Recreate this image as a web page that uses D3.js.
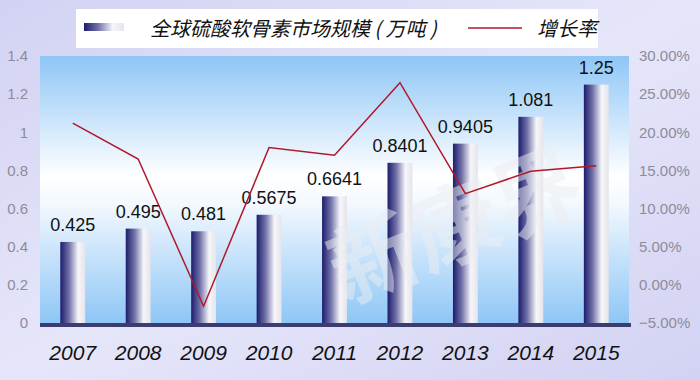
<!DOCTYPE html>
<html>
<head>
<meta charset="utf-8">
<script src="https://cdn.jsdelivr.net/npm/d3@7"></script>
<style>
  body { margin: 0; background: #fff; }
  svg { display: block; }
</style>
</head>
<body>
<div id="root"></div>
<script>
// data
var years = ["2007","2008","2009","2010","2011","2012","2013","2014","2015"];
var market = [0.425, 0.495, 0.481, 0.5675, 0.6641, 0.8401, 0.9405, 1.081, 1.25];
var marketLabels = ["0.425","0.495","0.481","0.5675","0.6641","0.8401","0.9405","1.081","1.25"];
var growth = [0.212, 0.165, -0.028, 0.180, 0.170, 0.265, 0.1195, 0.149, 0.156];
var leftTicks = [0, 0.2, 0.4, 0.6, 0.8, 1, 1.2, 1.4];
var rightTicks = [-0.05, 0, 0.05, 0.10, 0.15, 0.20, 0.25, 0.30];

var width = 700, height = 380;
var plot = {left: 40, right: 629, top: 56, bottom: 323};

var svg = d3.select("#root").append("svg")
  .attr("width", width)
  .attr("height", height);

var defs = svg.append("defs");

var bg = defs.append("linearGradient").attr("id", "bg")
  .attr("x1", 0).attr("y1", 0).attr("x2", 1).attr("y2", 1);
bg.append("stop").attr("offset", "0%").attr("stop-color", "#d2d2f3");
bg.append("stop").attr("offset", "50%").attr("stop-color", "#e6e6fa");
bg.append("stop").attr("offset", "100%").attr("stop-color", "#d2d2f3");

var pg = defs.append("linearGradient").attr("id", "plotbg")
  .attr("x1", 0).attr("y1", 0).attr("x2", 0).attr("y2", 1);
pg.append("stop").attr("offset", "0%").attr("stop-color", "#8ec6f6");
pg.append("stop").attr("offset", "45%").attr("stop-color", "#ffffff");
pg.append("stop").attr("offset", "55%").attr("stop-color", "#f4f9fe");
pg.append("stop").attr("offset", "100%").attr("stop-color", "#8ec6f6");

var barg = defs.append("linearGradient").attr("id", "barg")
  .attr("x1", 0).attr("y1", 0).attr("x2", 1).attr("y2", 0);
barg.append("stop").attr("offset", "0%").attr("stop-color", "#1c1c6c");
barg.append("stop").attr("offset", "35%").attr("stop-color", "#7070a8");
barg.append("stop").attr("offset", "72%").attr("stop-color", "#f6f6fa");
barg.append("stop").attr("offset", "100%").attr("stop-color", "#e4e4ea");

svg.append("rect")
  .attr("width", width).attr("height", height)
  .attr("fill", "url(#bg)");

svg.append("rect")
  .attr("x", plot.left).attr("y", plot.top)
  .attr("width", plot.right - plot.left).attr("height", plot.bottom - plot.top)
  .attr("fill", "url(#plotbg)");

// scales
var x = d3.scaleBand().domain(years).range([plot.left, plot.right]).paddingInner(0.62).paddingOuter(0.31);
var yL = d3.scaleLinear().domain([0, 1.4]).range([plot.bottom, plot.top]);
var yR = d3.scaleLinear().domain([-0.05, 0.30]).range([plot.bottom, plot.top]);

// bars
svg.selectAll(".bar").data(market).enter().append("rect")
  .attr("class", "bar")
  .attr("x", function(d, i) { return x(years[i]); })
  .attr("y", function(d) { return yL(d); })
  .attr("width", x.bandwidth())
  .attr("height", function(d) { return yL(0) - yL(d); })
  .attr("fill", "url(#barg)");

// watermark, faint over the bars
svg.append("text")
  .attr("x", 345).attr("y", 305)
  .attr("transform", "rotate(-22,345,305)")
  .attr("font-family", "Noto Sans CJK SC")
  .attr("font-weight", "bold")
  .attr("font-size", 88)
  .attr("fill", "#eceef2")
  .attr("opacity", 0.5)
  .text("新康界");

// bar labels
svg.selectAll(".blabel").data(market).enter().append("text")
  .attr("x", function(d, i) { return x(years[i]) + x.bandwidth() / 2; })
  .attr("y", function(d) { return yL(d) - 11; })
  .attr("text-anchor", "middle")
  .attr("font-family", "Liberation Sans, Arial, sans-serif")
  .attr("font-size", 18)
  .attr("fill", "#111")
  .text(function(d, i) { return marketLabels[i]; });

// growth line
var line = d3.line()
  .x(function(d, i) { return x(years[i]) + x.bandwidth() / 2; })
  .y(function(d) { return yR(d); });

svg.append("path")
  .datum(growth)
  .attr("d", line)
  .attr("fill", "none")
  .attr("stroke", "#b0182a")
  .attr("stroke-width", 1.5);

// baseline
svg.append("line")
  .attr("x1", plot.left).attr("x2", plot.right + 2)
  .attr("y1", plot.bottom + 2).attr("y2", plot.bottom + 2)
  .attr("stroke", "#3c3c70")
  .attr("stroke-width", 4);

// left axis
var leftAxis = d3.axisLeft(yL).tickValues(leftTicks).tickSize(0).tickPadding(10)
  .tickFormat(function(d) { return d3.format("~g")(d); });
var gL = svg.append("g").attr("transform", "translate(" + (plot.left - 2) + ",0)").call(leftAxis);
gL.select(".domain").remove();
gL.selectAll("text")
  .attr("font-family", "Liberation Sans, Arial, sans-serif")
  .attr("font-size", 15)
  .attr("fill", "#8c8c98");

// right axis
var rightAxis = d3.axisRight(yR).tickValues(rightTicks).tickSize(0).tickPadding(10)
  .tickFormat(d3.format(".2%"));
var gR = svg.append("g").attr("transform", "translate(" + (plot.right) + ",0)").call(rightAxis);
gR.select(".domain").remove();
gR.selectAll("text")
  .attr("font-family", "Liberation Sans, Arial, sans-serif")
  .attr("font-size", 15)
  .attr("fill", "#8c8c98");

// x axis labels
var xAxis = d3.axisBottom(x).tickSize(0).tickPadding(22);
var gX = svg.append("g").attr("transform", "translate(0," + plot.bottom + ")").call(xAxis);
gX.select(".domain").remove();
gX.selectAll("text")
  .attr("font-family", "Liberation Sans, Arial, sans-serif")
  .attr("font-style", "italic")
  .attr("font-size", 21)
  .attr("fill", "#111");

// legend
var lg = svg.append("g");
lg.append("rect")
  .attr("x", 76).attr("y", 9).attr("width", 522).attr("height", 39)
  .attr("fill", "#fff");
lg.append("rect")
  .attr("x", 84).attr("y", 23).attr("width", 40).attr("height", 8)
  .attr("fill", "url(#barg)");
// CJK font has no italic, so slant it by hand
lg.append("g")
  .attr("transform", "translate(150,36) skewX(-14)")
  .append("text")
  .attr("font-family", "Noto Sans CJK SC")
  .attr("font-size", 20)
  .attr("fill", "#111")
  .style("white-space", "pre")
  .text("全球硫酸软骨素市场规模 ( 万吨 )");
lg.append("line")
  .attr("x1", 468).attr("x2", 522).attr("y1", 28).attr("y2", 28)
  .attr("stroke", "#b0182a").attr("stroke-width", 1.5);
lg.append("g")
  .attr("transform", "translate(537,36) skewX(-14)")
  .append("text")
  .attr("font-family", "Noto Sans CJK SC")
  .attr("font-size", 20)
  .attr("fill", "#111")
  .text("增长率");
</script>
</body>
</html>
